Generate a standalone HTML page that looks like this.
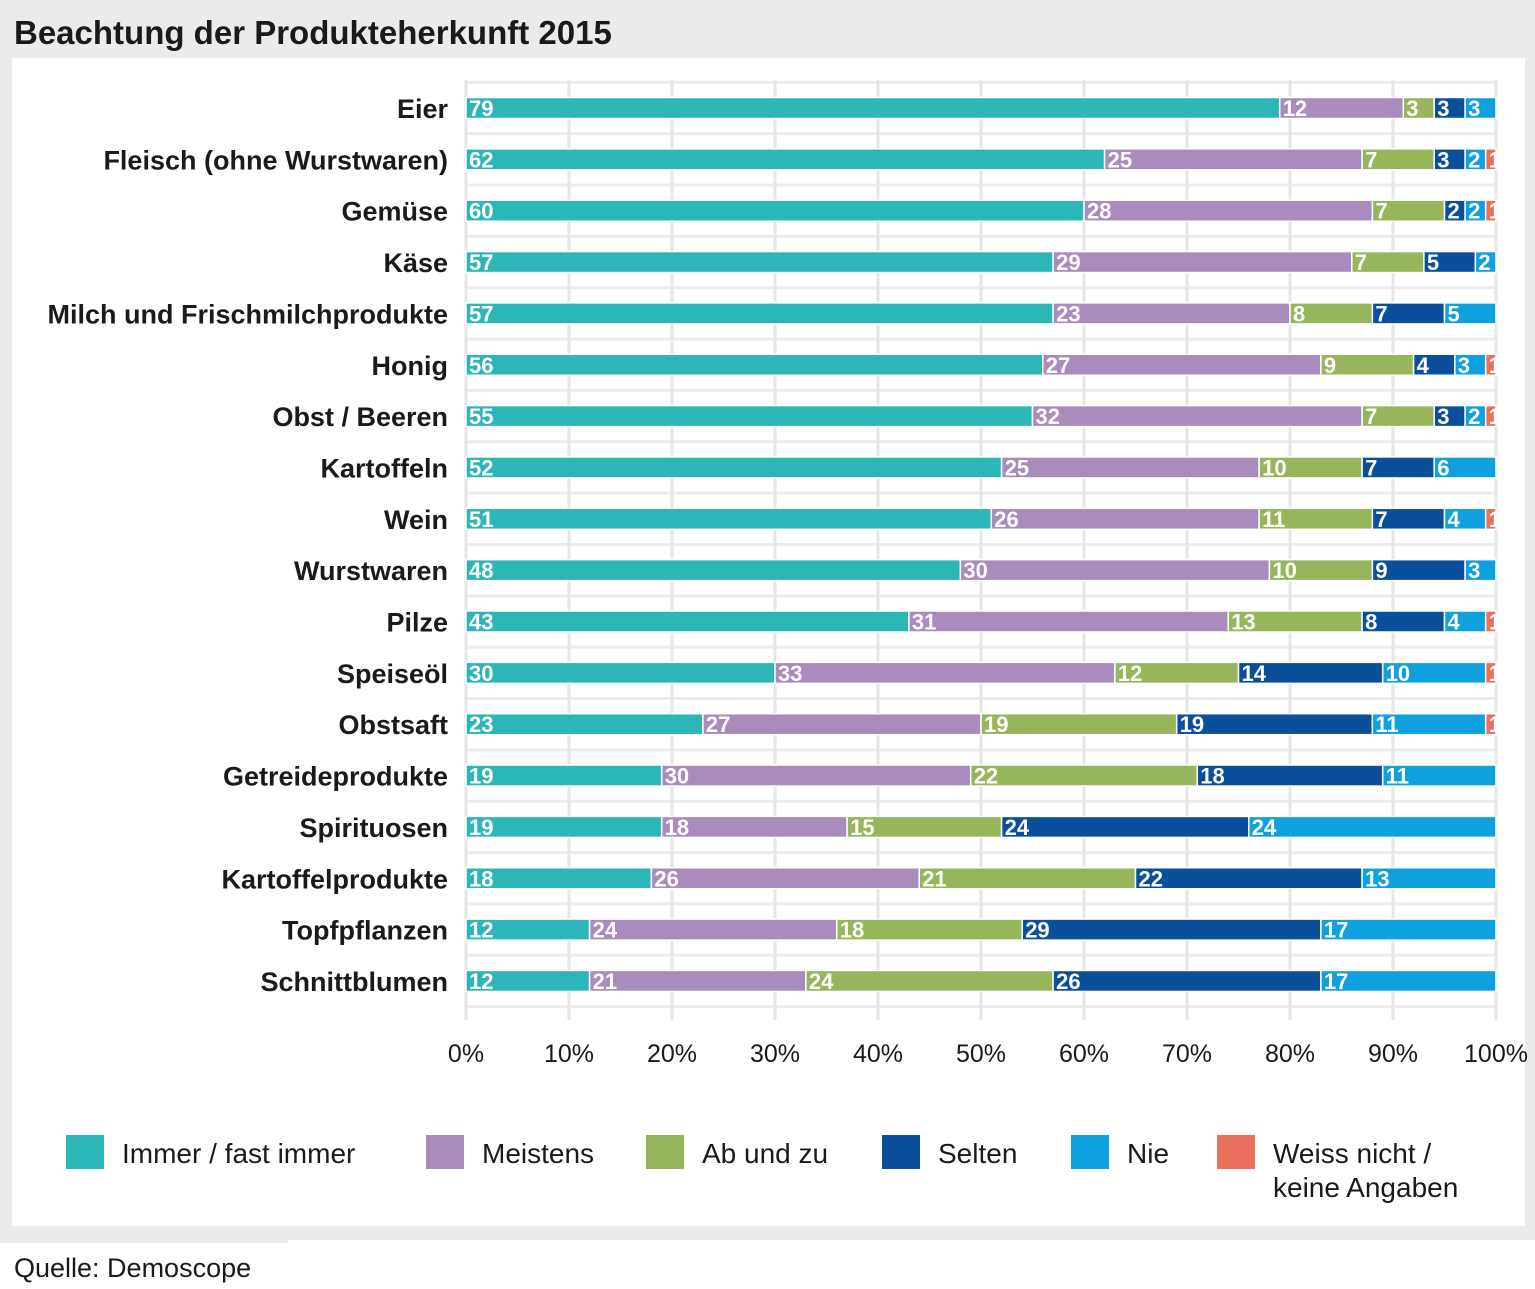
<!DOCTYPE html>
<html><head><meta charset="utf-8"><style>
body{margin:0;background:#fff;font-family:"Liberation Sans Narrow","Liberation Sans",sans-serif}
#wrap{position:relative;width:1535px;height:1289px;overflow:hidden}
</style></head><body>
<div id="wrap">
<svg id="svg" width="1535" height="1289">
<rect x="0" y="0" width="1535" height="1240" fill="#ebebeb"/>
<rect x="0" y="1240" width="288" height="3" fill="#ebebeb"/>
<rect x="12" y="58" width="1513" height="1168" fill="#fff"/>
<text x="14" y="44" font-size="33" font-weight="bold" fill="#1a1a1a">Beachtung der Produkteherkunft 2015</text>
<text x="14" y="1277" font-size="27" fill="#1a1a1a">Quelle: Demoscope</text>
<g id="grid"></g><g id="bars"></g><g id="axis"></g><g id="legend"></g>
</svg></div>
<script>
const categories=["Eier","Fleisch (ohne Wurstwaren)","Gemüse","Käse","Milch und Frischmilchprodukte","Honig","Obst / Beeren","Kartoffeln","Wein","Wurstwaren","Pilze","Speiseöl","Obstsaft","Getreideprodukte","Spirituosen","Kartoffelprodukte","Topfpflanzen","Schnittblumen"];
const immer=[79,62,60,57,57,56,55,52,51,48,43,30,23,19,19,18,12,12];
const meistens=[12,25,28,29,23,27,32,25,26,30,31,33,27,30,18,26,24,21];
const abundzu=[3,7,7,7,8,9,7,10,11,10,13,12,19,22,15,21,18,24];
const selten=[3,3,2,5,7,4,3,7,7,9,8,14,19,18,24,22,29,26];
const nie=[3,2,2,2,5,3,2,6,4,3,4,10,11,11,24,13,17,17];
const weissnicht=[0,1,1,0,0,1,1,0,1,0,1,1,1,0,0,0,0,0];
const seriesNames=["Immer / fast immer","Meistens","Ab und zu","Selten","Nie","Weiss nicht / keine Angaben"];
const ticks=[0,10,20,30,40,50,60,70,80,90,100];
const colors=["#2db6b8","#a98bbd","#97b55a","#0a4f9b","#0fa0e0","#ea6f5c"];
const series=[immer,meistens,abundzu,selten,nie,weissnicht];
const NS="http://www.w3.org/2000/svg";
const x0=466,x1=1496,y0=108,step=51.35,bh=21;
const xs=v=>x0+(x1-x0)*v/100;
const ys=i=>y0+i*step;
function mk(tag,attrs,parent){const e=document.createElementNS(NS,tag);for(const k in attrs)e.setAttribute(k,attrs[k]);document.getElementById(parent).appendChild(e);return e;}
for(let i=-1;i<categories.length;i++){
 const h=mk('line',{x1:x0,x2:x1,y1:ys(i)+step/2,y2:ys(i)+step/2,stroke:'#ececec','stroke-width':3},'grid');
 
 
}
ticks.forEach(t=>{
 const l=mk('line',{x1:xs(t),x2:xs(t),y1:80,y2:1020,stroke:'#e6e6e6','stroke-width':3},'grid');
 
 
 const tx=mk('text',{x:xs(t),y:1062,'font-size':25,fill:'#1a1a1a','text-anchor':'middle'},'axis');
 tx.textContent=t+'%';
 
 
});
categories.forEach((c,i)=>{
 const y=ys(i);
 const lab=mk('text',{x:448,y:y+10,'font-size':27,'font-weight':'bold',fill:'#1a1a1a','text-anchor':'end'},'axis');
 lab.textContent=c;
 
 
 let acc=0;
 series.forEach((s,k)=>{
  const v=s[i]; if(!v)return;
  const r=mk('rect',{x:xs(acc),y:y-bh/2,width:xs(acc+v)-xs(acc),height:bh,fill:colors[k],stroke:'#fff','stroke-width':1.5},'bars');
  
  
  const t=mk('text',{x:xs(acc)+3,y:y+8,'font-size':22,'font-weight':'bold',fill:'#fff'},'bars');
  t.textContent=v;
  
  
  acc+=v;
 });
});
const lx=[66,426,646,882,1071,1217];
seriesNames.forEach((n,k)=>{
 const r=mk('rect',{x:lx[k],y:1135,width:38,height:34,fill:colors[k]},'legend');
 
 
 const t=mk('text',{x:lx[k]+56,y:1163,'font-size':28,fill:'#1a1a1a'},'legend');
 
 
 if(k===5){t.innerHTML='<tspan x="'+(lx[k]+56)+'">Weiss nicht /</tspan><tspan x="'+(lx[k]+56)+'" dy="34">keine Angaben</tspan>';}
 else t.textContent=n;
});
</script>
</body></html>
